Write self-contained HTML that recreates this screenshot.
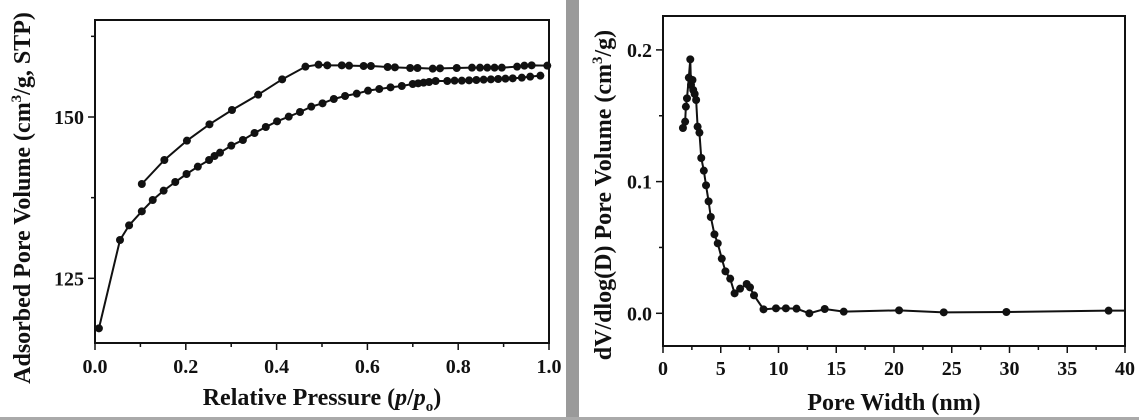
<!DOCTYPE html>
<html><head><meta charset="utf-8"><style>
body{margin:0;width:1139px;height:420px;background:#fff;overflow:hidden}
svg{display:block}
text{font-family:"Liberation Serif",serif;font-weight:bold;fill:#111}
</style></head><body>
<svg id="s" width="1139" height="420" viewBox="0 0 1139 420" xmlns="http://www.w3.org/2000/svg">
<rect x="566" y="0" width="13" height="420" fill="#9a9a9a"/>
<rect x="0" y="417" width="1139" height="3" fill="#aaa"/>
<rect x="95" y="20" width="454" height="323" fill="none" stroke="#111" stroke-width="2"/>
<rect x="663" y="16" width="462" height="330" fill="none" stroke="#111" stroke-width="2"/>
<text x="30" y="198" font-size="24" text-anchor="middle" transform="rotate(-90 30 198)">Adsorbed Pore Volume (cm<tspan dy="-9" font-size="15">3</tspan><tspan dy="9">/g, STP)</tspan></text>
<text x="322" y="405" font-size="24" text-anchor="middle">Relative Pressure (<tspan font-style="italic">p</tspan>/<tspan font-style="italic">p</tspan><tspan dy="6" font-size="15">o</tspan><tspan dy="-6">)</tspan></text>
<text x="611" y="195" font-size="24" text-anchor="middle" transform="rotate(-90 611 195)">dV/dlog(D) Pore Volume (cm<tspan dy="-9" font-size="15">3</tspan><tspan dy="9">/g)</tspan></text>
<text x="894" y="410" font-size="24" text-anchor="middle">Pore Width (nm)</text>
</svg>
<script>
const s=document.getElementById('s'),NS='http://www.w3.org/2000/svg';
function el(t,a,p){const e=document.createElementNS(NS,t);for(const k in a)e.setAttribute(k,a[k]);(p||s).appendChild(e);return e}
function txt(x,y,str,anchor){const e=el('text',{x,y,'font-size':20,'text-anchor':anchor});e.textContent=str}
for(let i=0;i<=10;i++){const x=95+45.4*i;el('line',{x1:x,y1:343,x2:x,y2:i%2?347:350,stroke:'#111','stroke-width':1.5});if(i%2==0)txt(x,373,(i/10).toFixed(1),'middle')}
for(let v=125;v<=162.5;v+=12.5){const y=117-(v-150)*6.453;el('line',{x1:95,y1:y,x2:v%25==0?88:91,y2:y,stroke:'#111','stroke-width':1.5});if(v%25==0)txt(84,y+7,v,'end')}
for(let i=0;i<=16;i++){const x=663+i*2.5*11.55;el('line',{x1:x,y1:346,x2:x,y2:i%2?350:353,stroke:'#111','stroke-width':1.5});if(i%2==0)txt(x,375,i*2.5,'middle')}
for(let i=0;i<=4;i++){const y=313.3-i*65.85;el('line',{x1:663,y1:y,x2:i%2?659:656,y2:y,stroke:'#111','stroke-width':1.5});if(i%2==0)txt(652,y+7,(i*0.05).toFixed(1),'end')}
function series(pts,ox,sx){const p=pts.map(q=>[ox+q[0]/sx,q[1]/3]);el('polyline',{points:p.map(q=>q.join(',')).join(' '),fill:'none',stroke:'#111','stroke-width':2});p.forEach(q=>el('circle',{cx:q[0],cy:q[1],r:4,fill:'#111'}))}
series([[272,985],[330,720],[355,676],[390,634],[420,600],[450,572],[482,546],[513,522],[544,500],[575,480],[590,468],[605,458],[636,437],[668,420],[700,399],[731,381],[762,364],[794,350],[825,336],[856,320],[887,310],[918,297],[949,288],[981,281],[1012,272],[1043,267],[1074,262],[1105,258],[1135,252],[1150,250],[1165,248],[1180,246],[1198,243],[1230,243],[1250,242],[1270,242],[1290,241],[1310,240],[1330,239],[1350,238],[1370,237],[1390,236],[1410,235],[1435,233],[1458,230],[1486,227]],0,2.75);
series([[390,552],[452,480],[514,422],[576,373],[638,330],[710,284],[776,238],[840,200],[876,194],[900,196],[940,196],[960,197],[1000,198],[1020,198],[1066,201],[1086,202],[1128,204],[1148,204],[1190,206],[1210,205],[1256,204],[1298,203],[1320,203],[1340,203],[1360,203],[1380,203],[1422,200],[1442,197],[1462,196],[1505,197]],0,2.75);
series([[322,384],[328,365],[330,320],[333,295],[338,233],[342,178],[344,255],[348,240],[350,270],[354,282],[358,300],[362,380],[367,398],[372,474],[379,512],[385,556],[392,604],[398,651],[408,703],[417,730],[428,776],[438,814],[451,836],[463,880],[478,866],[496,852],[505,862],[516,886],[542,928],[576,925],[603,925],[632,926],[667,940],[709,927],[761,935],[912,931],[1034,937],[1205,936],[1484,932]],565,2.73);
el('line',{x1:565+1484/2.73,y1:932/3,x2:1125,y2:932/3,stroke:'#111','stroke-width':2});
</script>
</body></html>
